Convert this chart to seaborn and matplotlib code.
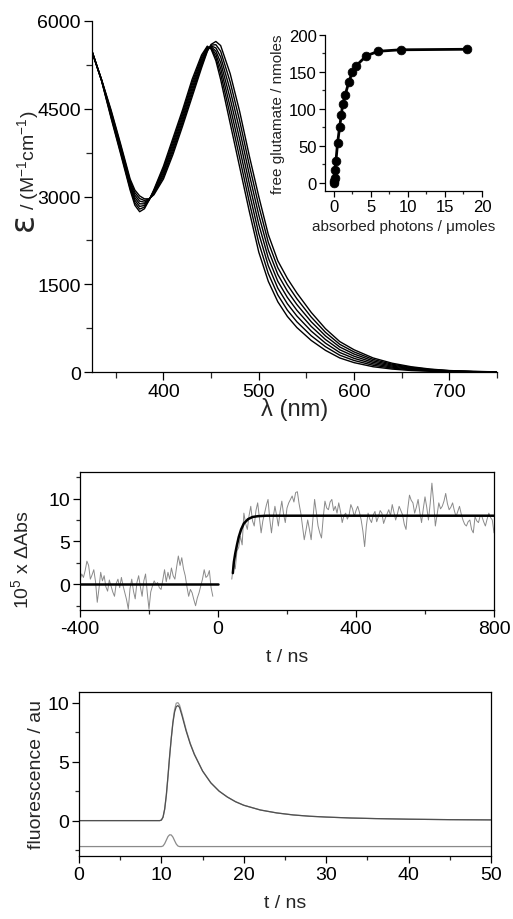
import numpy as np
import pandas as pd
import matplotlib
matplotlib.use("Agg")
import matplotlib.pyplot as plt
from matplotlib.ticker import MultipleLocator
import seaborn as sns

# ---- absorption spectra, 7 irradiation steps ----
wavelength = [325, 335, 345, 355, 365, 370, 375, 380, 385, 390, 400, 410, 420, 430,
              440, 446, 450, 455, 460, 470, 480, 490, 500, 510, 520, 530, 540, 555,
              570, 585, 600, 620, 640, 660, 680, 700, 725, 750]
eps_0 = [5480, 4980, 4340, 3730, 3110, 2850, 2740, 2790, 2940, 3120, 3520, 4000, 4480, 5000,
         5420, 5570, 5520, 5320, 5000, 4250, 3500, 2750, 2050, 1550, 1200, 950, 760, 540,
         370, 240, 160, 90, 50, 25, 12, 5, 2, 0]
eps_1 = [5480, 4983, 4363, 3758, 3142, 2893, 2785, 2818, 2943, 3105, 3483, 3953, 4433, 4950,
         5383, 5555, 5533, 5375, 5097, 4392, 3658, 2908, 2208, 1683, 1317, 1058, 858, 620,
         432, 287, 197, 115, 67, 36, 18, 8, 3, 1]
eps_2 = [5480, 4987, 4387, 3787, 3173, 2937, 2830, 2847, 2947, 3090, 3447, 3907, 4387, 4900,
         5347, 5540, 5547, 5430, 5193, 4533, 3817, 3067, 2367, 1817, 1433, 1167, 957, 700,
         493, 333, 233, 140, 83, 47, 25, 12, 5, 1]
eps_3 = [5480, 4990, 4410, 3815, 3205, 2980, 2875, 2875, 2950, 3075, 3410, 3860, 4340, 4850,
         5310, 5525, 5560, 5485, 5290, 4675, 3975, 3225, 2525, 1950, 1550, 1275, 1055, 780,
         555, 380, 270, 165, 100, 58, 31, 15, 6, 2]
eps_4 = [5480, 4993, 4433, 3843, 3237, 3023, 2920, 2903, 2953, 3060, 3373, 3813, 4293, 4800,
         5273, 5510, 5573, 5540, 5387, 4817, 4133, 3383, 2683, 2083, 1667, 1383, 1153, 860,
         617, 427, 307, 190, 117, 68, 37, 18, 7, 2]
eps_5 = [5480, 4997, 4457, 3872, 3268, 3067, 2965, 2932, 2957, 3045, 3337, 3767, 4247, 4750,
         5237, 5495, 5587, 5595, 5483, 4958, 4292, 3542, 2842, 2217, 1783, 1492, 1252, 940,
         678, 473, 343, 215, 133, 79, 44, 22, 8, 3]
eps_6 = [5480, 5000, 4480, 3900, 3300, 3110, 3010, 2960, 2960, 3030, 3300, 3720, 4200, 4700,
         5200, 5480, 5600, 5650, 5580, 5100, 4450, 3700, 3000, 2350, 1900, 1600, 1350, 1020,
         740, 520, 380, 240, 150, 90, 50, 25, 10, 3]
spectra = [eps_0, eps_1, eps_2, eps_3, eps_4, eps_5, eps_6]

# ---- inset: glutamate release vs absorbed photons ----
photons = [0, 0.05, 0.1, 0.14, 0.27, 0.5, 0.77, 1.0, 1.2, 1.53, 2.03, 2.5, 2.97, 4.4, 6.0, 9.0, 18.0]
glutamate = [0, 3, 6, 18, 29, 54, 75, 92, 107, 119, 137, 150, 158, 172, 178, 180, 180.7]

# ---- transient absorption trace ----
pre_vals = [0.5, 1.2, 0.8, 1.6, 2.7, 2.2, 0.6, 1.1, 1.7, 0.3, -2.1, -0.5, 1.4, 0.4, 1.0, -0.3,
            -0.8, 0.5, -0.2, -0.9, -1.4, 0.1, 0.6, -0.4, 0.8, -0.2, -1.0, -1.8, -2.9, -0.5,
            0.6, -0.8, -1.7, 0.2, 1.0, -0.3, -1.4, 0.4, 1.2, -1.0, -2.9, -0.9, -0.2, 0.4,
            0.0, 0.2, -0.4, -0.6, 0.5, 1.7, 0.3, 1.4, 0.6, 1.9, 1.0, 0.6, 2.0, 3.3, 2.2, 3.1,
            1.8, 1.0, -0.3, -1.4, -0.6, -1.0, -1.8, -2.5, -1.6, -1.0, -0.2, 0.6, 1.7, 0.8,
            1.0, 1.6, -0.4, -1.4]
post_vals = [0.6, 2.5, 1.8, 3.9, 4.3, 5.6, 4.6, 8.3, 7.1, 6.4, 8.0, 9.1, 7.4, 6.8, 8.6, 9.5,
             7.7, 6.0, 7.4, 8.3, 9.2, 9.9, 7.6, 6.0, 7.8, 9.1, 8.0, 6.8, 8.5, 9.7, 8.2, 7.2,
             8.9, 9.5, 9.9, 10.3, 9.6, 10.7, 10.8, 9.4, 8.3, 6.7, 5.2, 6.3, 7.5, 6.4, 5.2,
             7.6, 9.9, 8.4, 6.8, 6.0, 5.4, 7.8, 9.7, 8.9, 8.7, 9.6, 9.9, 8.6, 9.1, 8.3, 9.5,
             8.5, 7.2, 8.0, 8.3, 7.6, 8.1, 9.3, 8.8, 7.9, 8.6, 9.1, 8.4, 7.5, 6.2, 4.4, 6.8,
             8.3, 7.6, 7.2, 8.1, 8.5, 7.3, 7.9, 8.6, 8.3, 7.1, 7.7, 8.2, 8.7, 8.0, 9.3, 8.4,
             7.5, 8.2, 9.1, 8.6, 8.1, 7.0, 6.4, 8.8, 10.4, 9.8, 9.5, 8.3, 9.0, 9.9, 8.4, 7.2,
             8.8, 10.2, 9.0, 7.5, 9.4, 11.8, 9.6, 6.8, 8.1, 9.5, 8.8, 9.1, 9.7, 10.6, 9.4,
             8.7, 9.0, 9.5, 8.6, 7.9, 8.5, 9.1, 8.2, 7.5, 7.0, 6.8, 7.3, 7.5, 6.4, 6.0, 7.9,
             7.4, 7.2, 8.0, 7.9, 7.3, 6.8, 7.6, 8.3, 7.8, 7.5, 6.0]
pre_t = -400 + 5 * np.arange(len(pre_vals))
post_t = 40 + 5 * np.arange(len(post_vals))
fit_pre_t = [-400, 0]
fit_pre_v = [0, 0]
fit_t = [43, 46, 50, 55, 60, 67, 75, 87, 100, 116, 140, 800]
fit_v = [1.3, 2.6, 3.6, 4.6, 5.5, 6.4, 7.1, 7.6, 7.85, 7.95, 8.0, 8.0]

# ---- fluorescence decay ----
fl_t = [0, 9.8, 10.0, 10.2, 10.4, 10.6, 10.8, 11.0, 11.2, 11.4, 11.6, 11.8, 12.0, 12.2, 12.5,
        13, 13.5, 14, 15, 16, 17, 18, 19, 20, 22, 24, 26, 28, 30, 33, 36, 40, 45, 50]
fl_data = [0, 0, 0.05, 0.3, 1.0, 2.2, 3.8, 5.5, 7.0, 8.3, 9.2, 9.65, 9.75, 9.6, 8.9,
           7.6, 6.5, 5.6, 4.2, 3.2, 2.5, 2.0, 1.6, 1.3, 0.9, 0.65, 0.48, 0.37, 0.3, 0.22,
           0.17, 0.12, 0.08, 0.06]
fl_fit = [0, 0, 0.04, 0.28, 0.95, 2.1, 3.7, 5.4, 7.0, 8.4, 9.4, 9.95, 10.0, 9.8, 9.05,
          7.7, 6.55, 5.65, 4.2, 3.2, 2.5, 2.0, 1.6, 1.3, 0.9, 0.65, 0.48, 0.37, 0.3, 0.22,
          0.17, 0.12, 0.08, 0.06]
irf_t = [0, 10.0, 10.2, 10.4, 10.6, 10.8, 11.0, 11.2, 11.4, 11.6, 11.8, 12.0, 12.2, 50]
irf_v = [-2.2, -2.2, -2.15, -1.95, -1.65, -1.35, -1.2, -1.22, -1.4, -1.7, -1.98, -2.15, -2.2, -2.2]

sns.set_theme(style="ticks")
plt.rcParams["font.family"] = ["Liberation Sans", "DejaVu Sans"]
plt.rcParams["mathtext.fontset"] = "custom"
plt.rcParams["mathtext.rm"] = "Liberation Sans"
plt.rcParams["mathtext.it"] = "Liberation Sans"
plt.rcParams["axes.linewidth"] = 0.9
plt.rcParams["axes.edgecolor"] = "black"
plt.rcParams["axes.unicode_minus"] = False

W, H = 513, 920
fig = plt.figure(figsize=(W / 100, H / 100), dpi=100)


def px_axes(left, top, right, bottom):
    return fig.add_axes([left / W, 1 - bottom / H, (right - left) / W, (bottom - top) / H])


def style_ticks(ax, size, major=5, minor=3):
    ax.tick_params(which="major", direction="out", length=major, width=0.9,
                   labelsize=size, pad=2, colors="black")
    ax.tick_params(which="minor", direction="out", length=minor, width=0.9)


# ---------- top: spectra ----------
ax1 = px_axes(92, 22, 497, 373)
for eps in spectra:
    sns.lineplot(x=wavelength, y=eps, ax=ax1, color="black", lw=1.0, estimator=None)
ax1.set_xlim(325, 750)
ax1.set_ylim(0, 6000)
ax1.xaxis.set_major_locator(MultipleLocator(100))
ax1.xaxis.set_minor_locator(MultipleLocator(50))
ax1.yaxis.set_major_locator(MultipleLocator(1500))
ax1.yaxis.set_minor_locator(MultipleLocator(750))
sns.despine(ax=ax1)
style_ticks(ax1, 14, major=6, minor=4)
ax1.set_xlabel("λ (nm)", fontsize=17, labelpad=-2)
ax1.set_ylabel("")
ax1.text(-0.17, 0.43, "ε", rotation=90, fontsize=24, family=["DejaVu Sans"],
         transform=ax1.transAxes, ha="center", va="center")
ax1.text(-0.158, 0.605, r"/ (M$^{-1}$cm$^{-1}$)", rotation=90, fontsize=14,
         transform=ax1.transAxes, ha="center", va="center")

# ---------- inset ----------
axi = px_axes(325, 36, 482, 192)
sns.lineplot(x=photons, y=glutamate, ax=axi, color="black", lw=2, estimator=None)
sns.scatterplot(x=photons, y=glutamate, ax=axi, color="black", s=40, edgecolor="black", zorder=3)
axi.set_xlim(-1.2, 20)
axi.set_ylim(-11, 200)
axi.xaxis.set_major_locator(MultipleLocator(5))
axi.xaxis.set_minor_locator(MultipleLocator(2.5))
axi.yaxis.set_major_locator(MultipleLocator(50))
axi.yaxis.set_minor_locator(MultipleLocator(25))
axi.patch.set_alpha(0)
sns.despine(ax=axi)
style_ticks(axi, 12, major=4, minor=2.5)
axi.set_xlabel("absorbed photons / μmoles", fontsize=11, labelpad=3, color="#222222")
axi.set_ylabel("free glutamate / nmoles", fontsize=11, labelpad=3, color="#222222")

# ---------- middle: transient absorption ----------
ax2 = px_axes(80, 473, 494, 611)
sns.lineplot(x=pre_t, y=pre_vals, ax=ax2, color="#8a8a8a", lw=0.7, estimator=None)
sns.lineplot(x=post_t, y=post_vals, ax=ax2, color="#8a8a8a", lw=0.7, estimator=None)
sns.lineplot(x=fit_pre_t, y=fit_pre_v, ax=ax2, color="black", lw=1.8, estimator=None)
sns.lineplot(x=fit_t, y=fit_v, ax=ax2, color="black", lw=1.8, estimator=None)
ax2.set_xlim(-400, 800)
ax2.set_ylim(-3, 13.1)
ax2.xaxis.set_major_locator(MultipleLocator(400))
ax2.xaxis.set_minor_locator(MultipleLocator(200))
ax2.yaxis.set_major_locator(MultipleLocator(5))
ax2.yaxis.set_minor_locator(MultipleLocator(2.5))
style_ticks(ax2, 14)
ax2.set_xlabel("t / ns", fontsize=14, labelpad=8)
ax2.set_ylabel(r"10$^5$ x ΔAbs", fontsize=14)
ax2.yaxis.set_label_coords(-0.115, 0.37)

# ---------- bottom: fluorescence ----------
ax3 = px_axes(79, 693, 491, 857)
sns.lineplot(x=irf_t, y=irf_v, ax=ax3, color="#8a8a8a", lw=0.9, estimator=None)
sns.lineplot(x=fl_t, y=fl_fit, ax=ax3, color="#9a9a9a", lw=0.9, estimator=None)
sns.lineplot(x=fl_t, y=fl_data, ax=ax3, color="#505050", lw=0.9, estimator=None)
ax3.set_xlim(0, 50)
ax3.set_ylim(-3, 10.9)
ax3.xaxis.set_major_locator(MultipleLocator(10))
ax3.xaxis.set_minor_locator(MultipleLocator(5))
ax3.yaxis.set_major_locator(MultipleLocator(5))
ax3.yaxis.set_minor_locator(MultipleLocator(2.5))
style_ticks(ax3, 14)
ax3.set_xlabel("t / ns", fontsize=14, labelpad=8)
ax3.set_ylabel("fluorescence / au", fontsize=14, labelpad=2)

fig.savefig("out.png", dpi=100, facecolor="white")
